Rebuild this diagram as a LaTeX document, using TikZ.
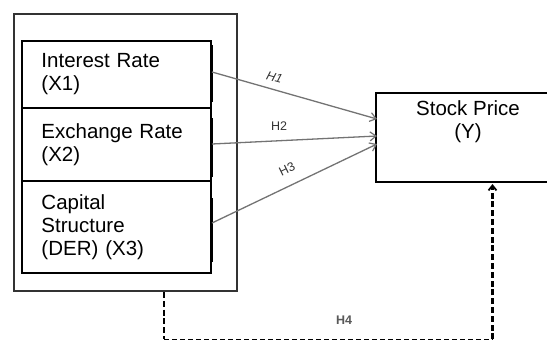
\documentclass[tikz,border=0pt]{standalone}
\usepackage{fontspec}
\setmainfont{Liberation Sans}
\usetikzlibrary{arrows.meta,calc}
\begin{document}
\begin{tikzpicture}[x=1pt,y=1pt,
  outerbox/.style={draw=black!80, line width=1.8pt, minimum width=223pt, minimum height=277pt, inner sep=0pt},
  varbox/.style={draw=black, line width=1.8pt, minimum width=189pt, inner xsep=19.5pt, inner ysep=0pt,
    text width=150pt, align=left, font=\fontsize{20.5}{23}\selectfont},
  shadowbar/.style={draw=black, line width=2pt},
  hyparrow/.style={draw=black!55, line width=1.3pt, -{Straight Barb[length=6pt,width=9pt,line width=1.2pt]}},
  hlabel/.style={text=black!80, font=\fontsize{12.5}{14}\selectfont, inner sep=0pt},
  dashline/.style={draw=black, line width=2.2pt, dash pattern=on 6pt off 2.8pt},
  dashthin/.style={draw=black, line width=1.3pt, dash pattern=on 5pt off 3pt},
  bigtext/.style={font=\fontsize{20.5}{23}\selectfont, align=center, inner sep=0pt}]
\useasboundingbox (0,0) rectangle (547,-341);

% outer frame
\node[outerbox] (outer) at (125.5,-152.5) {};

% variable boxes
\node[varbox, minimum height=67pt] (x1) at (116.5,-74.5) {Interest Rate\\(X1)};
\node[varbox, minimum height=73pt] (x2) at (116.5,-144.5) {Exchange Rate\\(X2)};
\node[varbox, minimum height=92pt] (x3) at (116.5,-227) {Capital\\Structure\\(DER) (X3)};

% shadow bars on the right edges
\draw[shadowbar] (212.3,-45) -- (212.3,-102);
\draw[shadowbar] (212.3,-118) -- (212.3,-177);
\draw[shadowbar] (212.3,-198) -- (212.3,-262);

% dependent variable
\node[draw=black, line width=1.8pt, minimum width=184pt, minimum height=89pt, inner sep=0pt] (stock) at (468,-137.5) {};
\node[bigtext] (stocktxt) at (468,-121.5) {Stock Price\\(Y)};

% hypothesis arrows
\coordinate (s1) at (212,-72);
\coordinate (s2) at (212,-144);
\coordinate (s3) at (212,-223);
\coordinate (e1) at (377,-119);
\coordinate (e2) at (377,-136);
\coordinate (e3) at (377,-144);
\draw[hyparrow] (s1) -- (e1);
\draw[hyparrow] (s2) -- (e2);
\draw[hyparrow] (s3) -- (e3);
\node[hlabel, rotate=-16] (h1) at (274.5,-77.5) {\itshape H1};
\node[hlabel] (h2) at (279,-126.5) {H2};
\node[hlabel, rotate=26] (h3) at (287,-169.5) {H3};

% H4 dashed path
\coordinate (d0) at (164,-292);
\coordinate (d1) at (164,-339.3);
\coordinate (d2) at (492.5,-339.3);
\coordinate (d3) at (492.5,-184);
\draw[dashline] (d0) -- (d1);
\draw[dashthin] (d1) -- (d2);
\draw[dashline, -{Straight Barb[length=5pt,width=8pt,line width=1.8pt]}] (d2) -- (d3);
\node[hlabel, text=black!65, font=\bfseries\fontsize{12.5}{14}\selectfont] (h4) at (344,-320) {H4};
\end{tikzpicture}
\end{document}
